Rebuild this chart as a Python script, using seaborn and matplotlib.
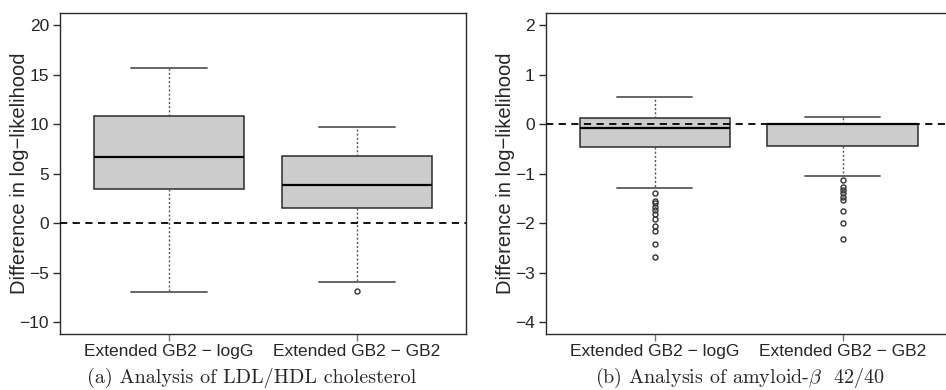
import matplotlib
matplotlib.use("Agg")
import matplotlib.pyplot as plt
import seaborn as sns

# ---------------- data ----------------
categories = ["Extended GB2 \u2212 logG", "Extended GB2 \u2212 GB2"]

# Panel (a): LDL/HDL cholesterol
a_median = [6.65, 3.86]
a_q1 = [3.48, 1.49]
a_q3 = [10.80, 6.75]
a_whislo = [-6.97, -5.93]
a_whishi = [15.72, 9.75]
a_fliers = [[], [-6.87]]
a_yticks = [-10, -5, 0, 5, 10, 15, 20]

# Panel (b): amyloid-beta 42/40
b_median = [-0.076, 0.0]
b_q1 = [-0.468, -0.434]
b_q3 = [0.126, 0.0]
b_whislo = [-1.283, -1.047]
b_whishi = [0.558, 0.147]
b_fliers = [
    [-1.385, -1.553, -1.60, -1.675, -1.73, -1.816, -1.917, -2.066, -2.16, -2.42, -2.68],
    [-1.122, -1.277, -1.338, -1.391, -1.472, -1.532, -1.749, -1.992, -2.329],
]
b_yticks = [-4, -3, -2, -1, 0, 1, 2]

captions = ["(a) Analysis of LDL/HDL cholesterol",
            r"(b) Analysis of amyloid-$\beta$  42/40"]
ylabel = "Difference in log\u2212likelihood"

# ---------------- style ----------------
sns.set_style("ticks")
plt.rcParams["font.family"] = ["Liberation Sans", "DejaVu Sans"]
plt.rcParams["mathtext.fontset"] = "cm"
plt.rcParams["axes.unicode_minus"] = True

fig = plt.figure(figsize=(9.46, 3.9), dpi=100)
W, H = 946.0, 390.0
ax_b = 334.0
ax_t = 13.3
axw = 406.0
lefts = [60.0, 545.7]


def make_stats(med, q1, q3, lo, hi, fl):
    out = []
    for i in range(len(med)):
        out.append(dict(med=med[i], q1=q1[i], q3=q3[i], whislo=lo[i],
                        whishi=hi[i], fliers=fl[i], label=categories[i]))
    return out


panels = [
    (make_stats(a_median, a_q1, a_q3, a_whislo, a_whishi, a_fliers), a_yticks, (-11.2, 21.2)),
    (make_stats(b_median, b_q1, b_q3, b_whislo, b_whishi, b_fliers), b_yticks, (-4.24, 2.24)),
]

edge = "#2b2b2b"
for k, (stats, yt, ylim) in enumerate(panels):
    ax = fig.add_axes([lefts[k] / W, (H - ax_b) / H, axw / W, (ax_b - ax_t) / H])
    ax.bxp(stats, positions=[1, 2], widths=0.8, capwidths=0.4, patch_artist=True,
           boxprops=dict(facecolor="#cccccc", edgecolor=edge, linewidth=1.1),
           medianprops=dict(color="black", linewidth=1.6),
           whiskerprops=dict(color="#555555", linestyle=(0, (1.5, 1.5)), linewidth=1.0),
           capprops=dict(color="#666666", linewidth=1.4),
           flierprops=dict(marker="o", markerfacecolor="none", markeredgecolor="#333333",
                           markersize=3.6, markeredgewidth=1.0))
    ax.axhline(0, color="black", linestyle=(0, (4, 3)), linewidth=1.3, zorder=5)
    ax.set_xlim(0.42, 2.58)
    ax.set_ylim(*ylim)
    ax.set_yticks(yt)
    ax.set_xticks([1, 2])
    ax.set_xticklabels(categories, fontsize=12.5)
    ax.tick_params(axis="y", labelsize=12.5, length=5, width=1, color=edge, pad=3)
    ax.tick_params(axis="x", length=5, width=1, color="#777777", pad=2)
    ax.set_ylabel(ylabel, fontsize=14.5)
    ax.yaxis.set_label_coords(-0.076, 0.5)
    for s in ax.spines.values():
        s.set_color(edge)
        s.set_linewidth(1.0)
        s.set_visible(True)
    ax.grid(False)

fig.text(252 / W, 1 - 378 / H, captions[0], ha="center", va="center",
         fontsize=14.5, family=["cmr10"])
fig.text(739.7 / W, 1 - 378 / H, captions[1], ha="center", va="center",
         fontsize=14.5, family=["cmr10"])

fig.savefig("out.png", dpi=100)
